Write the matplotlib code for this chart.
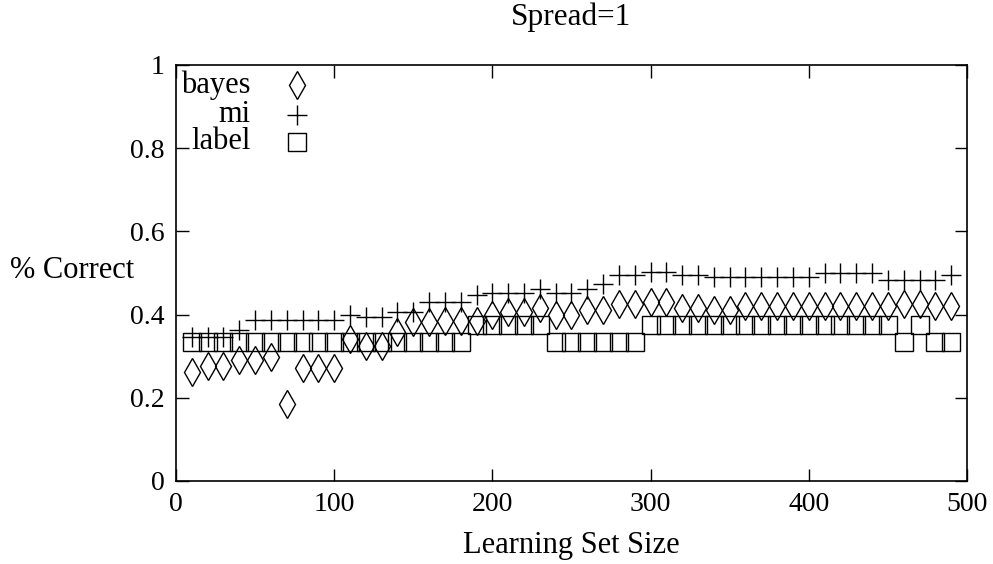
import numpy as np
import matplotlib
matplotlib.use("Agg")
import matplotlib.pyplot as plt

# donnees
# ==========================
taille = [10, 20, 30, 40, 50, 60, 70, 80, 90, 100,
          110, 120, 130, 140, 150, 160, 170, 180, 190, 200,
          210, 220, 230, 240, 250, 260, 270, 280, 290, 300,
          310, 320, 330, 340, 350, 360, 370, 380, 390, 400,
          410, 420, 430, 440, 450, 460, 470, 480, 490]

bayes = [0.263, 0.277, 0.277, 0.290, 0.290, 0.299, 0.185, 0.272, 0.272, 0.272,
         0.342, 0.325, 0.325, 0.358, 0.382, 0.382, 0.384, 0.384, 0.384, 0.400,
         0.405, 0.405, 0.416, 0.400, 0.400, 0.410, 0.410, 0.425, 0.425, 0.430,
         0.430, 0.415, 0.415, 0.410, 0.410, 0.421, 0.421, 0.421, 0.421, 0.421,
         0.421, 0.421, 0.421, 0.421, 0.421, 0.425, 0.425, 0.421, 0.421]

mi = [0.347, 0.347, 0.347, 0.362, 0.387, 0.387, 0.387, 0.387, 0.387, 0.387,
      0.399, 0.395, 0.395, 0.405, 0.405, 0.430, 0.431, 0.431, 0.448, 0.452,
      0.452, 0.452, 0.462, 0.452, 0.452, 0.462, 0.474, 0.496, 0.496, 0.503,
      0.503, 0.494, 0.494, 0.490, 0.490, 0.490, 0.490, 0.490, 0.490, 0.490,
      0.500, 0.500, 0.500, 0.500, 0.483, 0.483, 0.483, 0.483, 0.494]

label = [0.333, 0.333, 0.333, 0.333, 0.333, 0.333, 0.333, 0.333, 0.333, 0.333,
         0.333, 0.333, 0.333, 0.333, 0.333, 0.333, 0.333, 0.333, 0.375, 0.375,
         0.375, 0.375, 0.375, 0.333, 0.333, 0.333, 0.333, 0.333, 0.333, 0.375,
         0.375, 0.375, 0.375, 0.375, 0.375, 0.375, 0.375, 0.375, 0.375, 0.375,
         0.375, 0.375, 0.375, 0.375, 0.375, 0.333, 0.375, 0.333, 0.333]

series = [("bayes", bayes, "d", 14), ("mi", mi, "+", 14), ("label", label, "s", 13)]

plt.rcParams['font.family'] = ['Liberation Serif', 'DejaVu Serif']
plt.rcParams['font.size'] = 20

fig = plt.figure(figsize=(9.93, 5.64), dpi=100)
ax = fig.add_axes([0.1772, 0.1472, 0.7966, 0.7376])

for nom, vals, mk, ms in series:
    ax.plot(taille, vals, linestyle="none", marker=mk, markersize=ms,
            markerfacecolor="none", markeredgecolor="black", markeredgewidth=1.0)

# legende a la gnuplot : texte a droite puis symbole
ly = [0.952, 0.880, 0.816]
for (nom, vals, mk, ms), y in zip(series, ly):
    ax.text(0.0944, y, nom, transform=ax.transAxes, ha="right", va="center",
            fontsize=22)
    ax.plot([0.1526], [y], transform=ax.transAxes, linestyle="none", marker=mk,
            markersize=ms, markerfacecolor="none", markeredgecolor="black",
            markeredgewidth=1.0, clip_on=False)

ax.set_xlim(0, 500)
ax.set_ylim(0, 1)
ax.set_xticks([0, 100, 200, 300, 400, 500])
ax.set_yticks([0, 0.2, 0.4, 0.6, 0.8, 1])
ax.set_yticklabels(["0", "0.2", "0.4", "0.6", "0.8", "1"])
ax.tick_params(direction="in", length=9, width=1, top=True, right=True, pad=8)
for s in ax.spines.values():
    s.set_linewidth(1.2)

ax.set_title("Spread=1", pad=29, fontsize=22.5)
ax.set_xlabel("Learning Set Size", labelpad=10, fontsize=22)
ax.set_ylabel("% Correct", rotation=0, ha="left", va="center", fontsize=22)
ax.yaxis.set_label_coords(-0.21, 0.505)

fig.savefig("out.png", dpi=100)
